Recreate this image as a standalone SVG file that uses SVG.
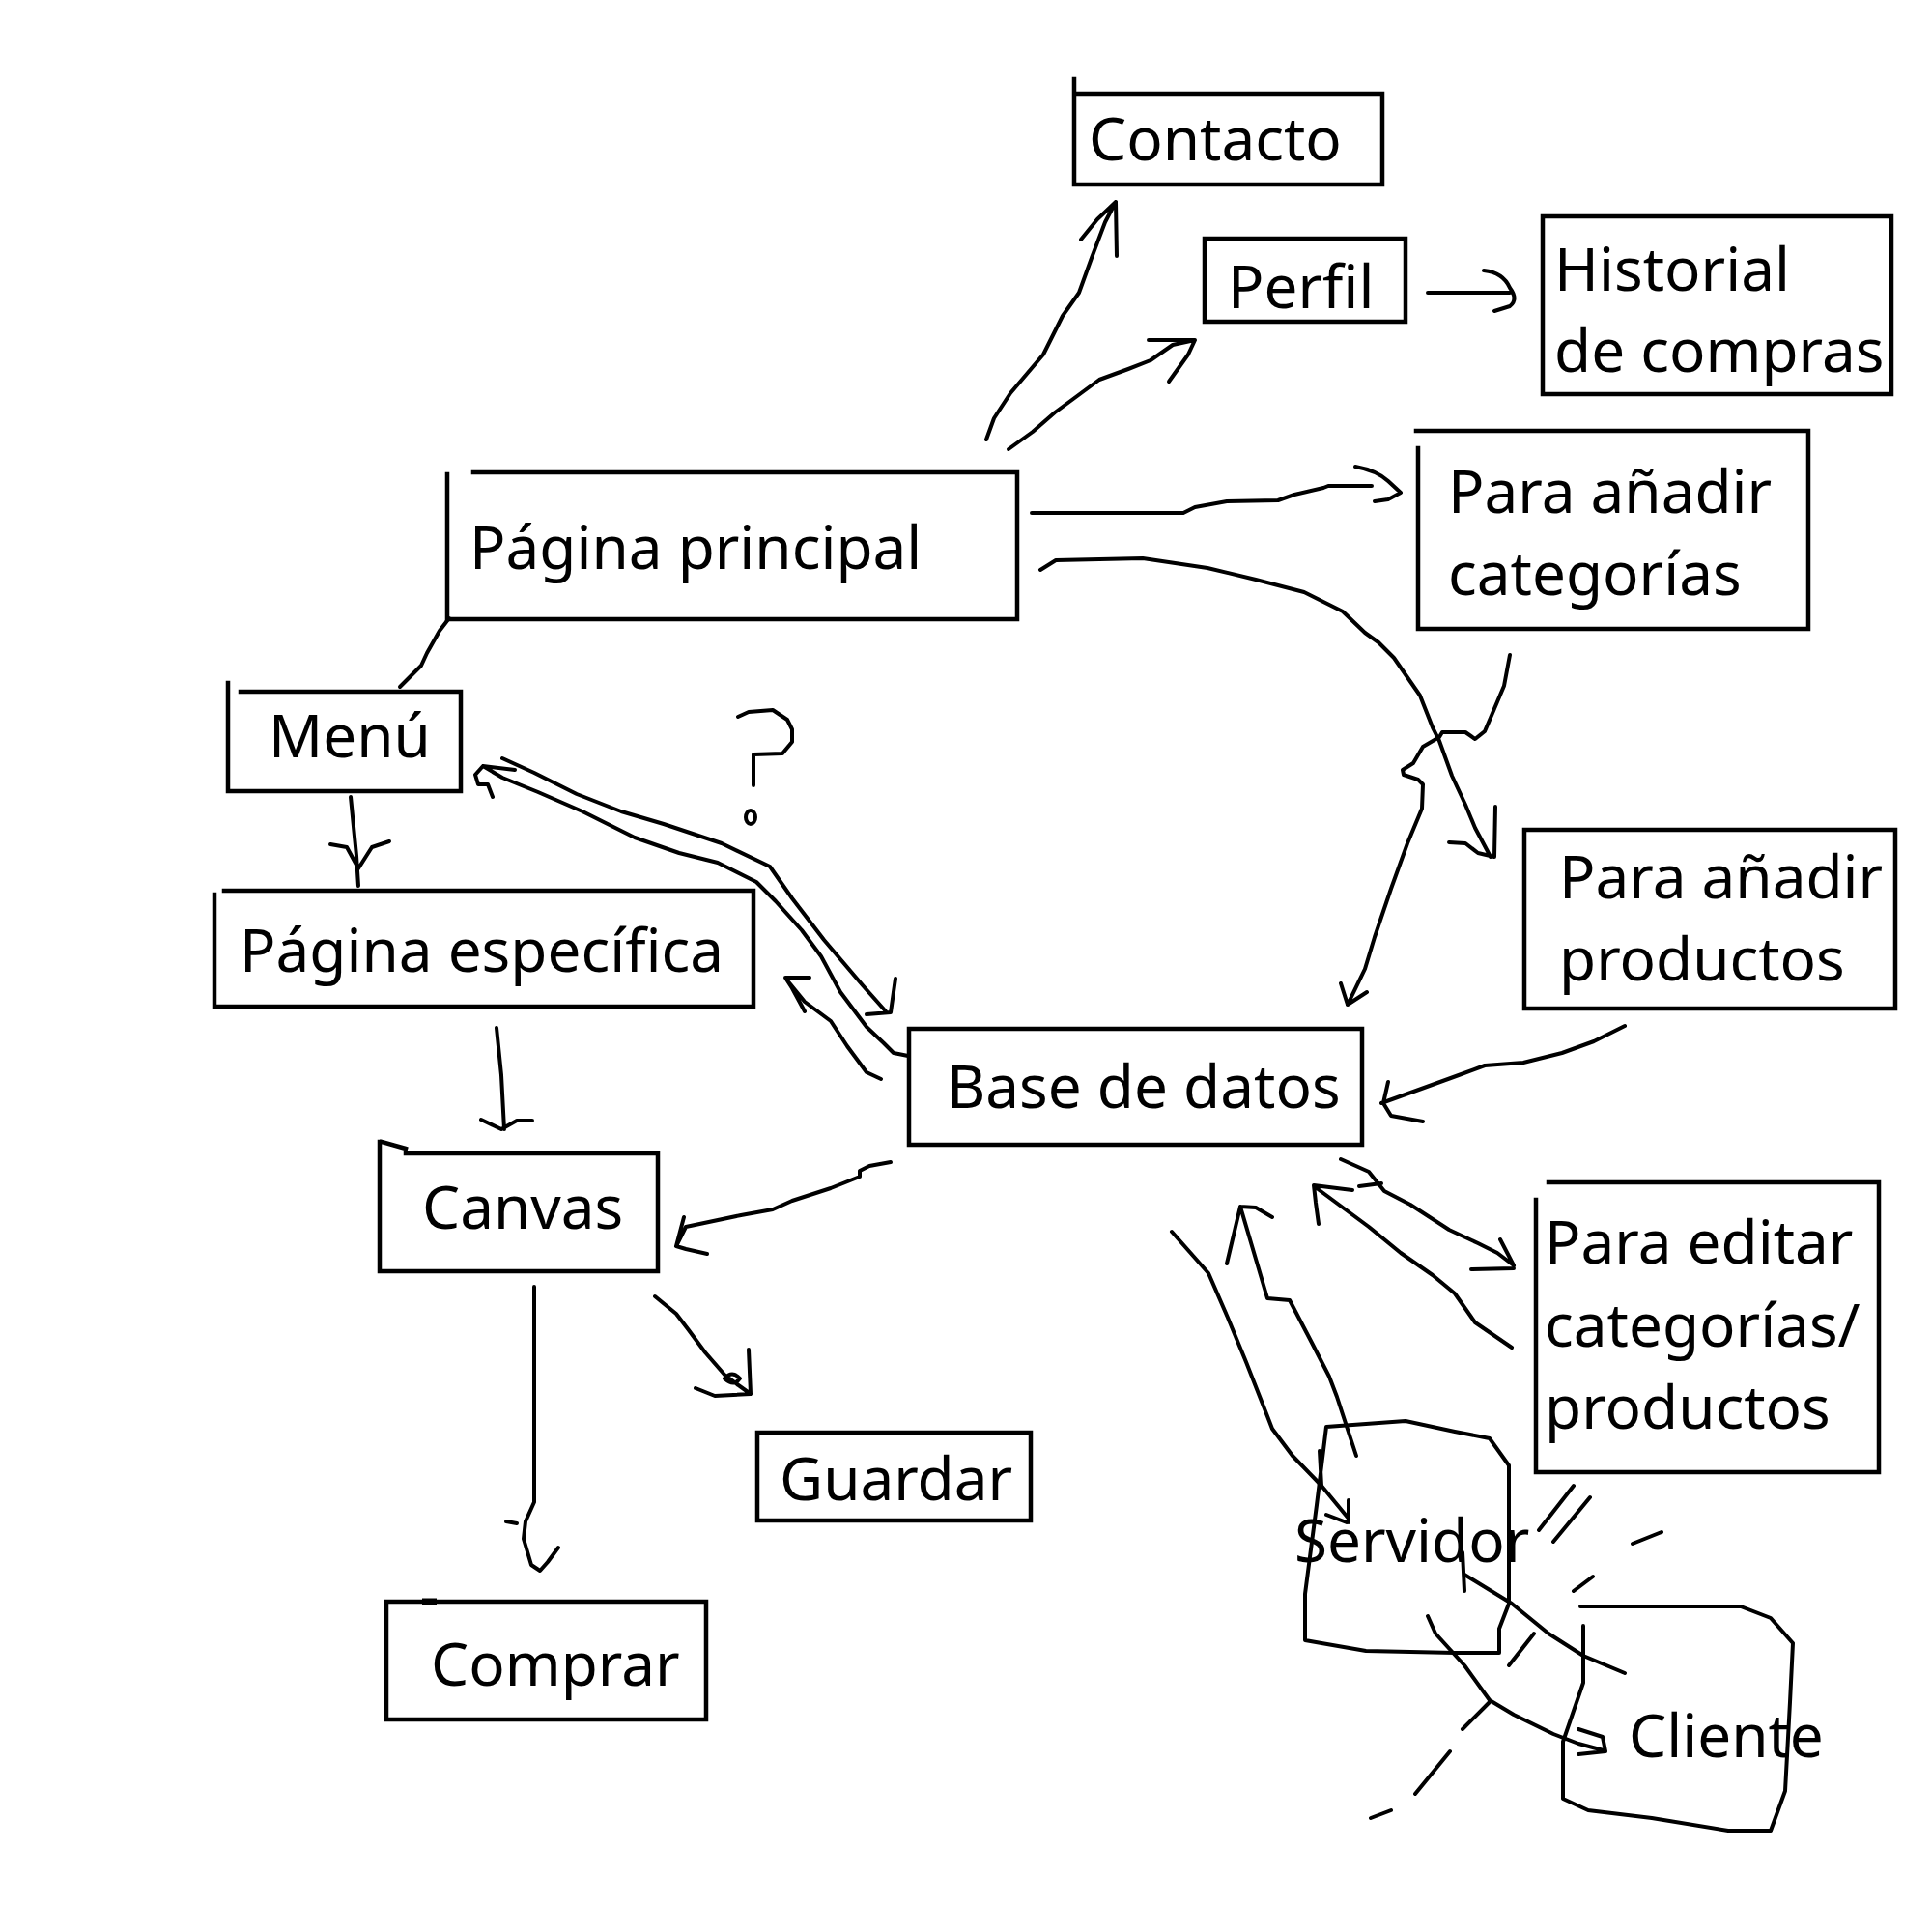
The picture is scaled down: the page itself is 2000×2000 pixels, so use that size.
<svg xmlns="http://www.w3.org/2000/svg" width="2000" height="2000" viewBox="0 0 2000 2000">
<style>
.box{fill:none;stroke:#000;stroke-width:4.5;stroke-linejoin:miter;stroke-linecap:square}
.hand{fill:none;stroke:#000;stroke-width:4;stroke-linejoin:round;stroke-linecap:round}
.lbl{font-family:"Noto Sans","Open Sans","DejaVu Sans",sans-serif;font-size:62px;fill:#000}
</style>
<rect x="0" y="0" width="2000" height="2000" fill="#fff"/>
<g id="contacto"><path class="box" d="M1112,82 L1112,191 L1431,191 L1431,97 L1112,97"/><text class="lbl" x="1127" y="166">Contacto</text></g>
<g id="perfil"><path class="box" d="M1247,247 L1455,247 L1455,333 L1247,333 Z"/><text class="lbl" x="1271" y="319">Perfil</text></g>
<g id="historial"><rect class="box" x="1597" y="224" width="361" height="184"/><text class="lbl" x="1609" y="301">Historial</text><text class="lbl" x="1609" y="385">de compras</text></g>
<g id="pagina-principal"><path class="box" d="M463,491 L463,641 L1053,641 L1053,489 L490,489"/><text class="lbl" x="486" y="589">Página principal</text></g>
<g id="anadir-categorias"><path class="box" d="M1466,446 L1872,446 L1872,651 L1468,651 L1468,464"/><text class="lbl" x="1499" y="531">Para añadir</text><text class="lbl" x="1499" y="616">categorías</text></g>
<g id="menu"><path class="box" d="M236,707 L236,819 L477,819 L477,716 L249,716"/><text class="lbl" x="278" y="784">Menú</text></g>
<g id="pagina-especifica"><path class="box" d="M222,926 L222,1042 L780,1042 L780,922 L232,922"/><text class="lbl" x="248" y="1006">Página específica</text></g>
<g id="anadir-productos"><rect class="box" x="1578" y="859" width="384" height="185"/><text class="lbl" x="1614" y="930">Para añadir</text><text class="lbl" x="1614" y="1015">productos</text></g>
<g id="base-datos"><rect class="box" x="941" y="1065" width="469" height="120"/><text class="lbl" x="980" y="1147">Base de datos</text></g>
<g id="canvas"><path class="box" d="M395,1182 L420,1189 M420,1194 L681,1194 L681,1316 L393,1316 L393,1182"/><text class="lbl" x="437" y="1272">Canvas</text></g>
<g id="editar"><path class="box" d="M1603,1224 L1945,1224 L1945,1524 L1590,1524 L1590,1242"/><text class="lbl" x="1599" y="1308">Para editar</text><text class="lbl" x="1599" y="1394">categorías/</text><text class="lbl" x="1599" y="1479">productos</text></g>
<g id="guardar"><rect class="box" x="784" y="1483" width="283" height="91"/><text class="lbl" x="807" y="1553">Guardar</text></g>
<g id="comprar"><rect class="box" x="400" y="1658" width="331" height="122"/><path d="M437,1658 L452,1658" stroke="#000" stroke-width="7"/><text class="lbl" x="446" y="1745">Comprar</text></g>
<g id="servidor"><path class="hand" d="M1373,1477 L1455,1471 L1506,1482 L1542,1489 L1562,1517 L1562,1660 L1552,1686 L1552,1711 L1506,1711 L1414,1709 L1368,1701 L1351,1698 L1351,1650 L1363,1558 Z M1366,1502 L1368,1538 M1514,1607 L1516,1647"/><text class="lbl" x="1340" y="1617">Servidor</text></g>
<g id="cliente"><path class="hand" d="M1636,1663 L1802,1663 L1833,1675 L1856,1701 L1853,1762 L1848,1854 L1833,1895 L1789,1895 L1710,1882 L1644,1874 L1618,1862 L1618,1803 L1639,1742 L1639,1683"/><text class="lbl" x="1686" y="1819">Cliente</text></g>
<g id="question"><path class="hand" d="M764,742 L775,737 L800,735 L815,745 L820,755 L820,768 L810,780 L780,781 L780,813"/><ellipse cx="777" cy="846" rx="5" ry="7" fill="none" stroke="#000" stroke-width="4"/></g>
<g id="connectors">
<path class="hand" d="M1021,455 L1029,433 L1046,407 L1080,367 L1100,327 L1117,303 L1130,267 L1144,230 L1155,209 M1119,248 L1136,227 L1155,209 L1156,265"/>
<path class="hand" d="M1044,465 L1069,447 L1092,427 L1111,413 L1138,393 L1168,382 L1191,373 L1214,357 L1237,352 M1189,352 L1237,352 L1230,367 L1210,395"/>
<path class="hand" d="M1478,303 L1563,303 M1536,280 Q1556,282 1563,298 Q1572,310 1563,317 L1547,322"/>
<path class="hand" d="M1068,531 L1225,531 L1237,525 L1270,519 L1323,518 L1340,512 L1370,505 L1375,503 L1420,503 M1403,483 Q1425,487 1437,498 L1450,510 L1437,517 L1423,519"/>
<path class="hand" d="M1077,590 L1093,580 L1183,578 L1250,588 L1300,600 L1350,613 L1390,633 L1413,655 L1427,665 L1443,681 L1470,720 L1483,753 L1490,767 L1503,803 L1517,833 L1527,857 L1543,887 M1548,835 L1547,887 L1530,883 L1517,873 L1500,872"/>
<path class="hand" d="M1563,678 L1557,710 L1543,743 L1537,757 L1527,765 L1517,758 L1493,758 L1490,763 L1473,773 L1463,790 L1452,797 L1453,802 L1468,807 L1473,812 L1472,837 L1457,873 L1440,920 L1423,970 L1413,1003 L1395,1040 M1388,1018 L1395,1040 L1415,1027"/>
<path class="hand" d="M1682,1062 L1650,1078 L1617,1090 L1577,1100 L1537,1103 L1510,1113 L1477,1125 L1430,1142 M1437,1120 L1432,1142 L1440,1155 L1473,1161"/>
<path class="hand" d="M465,640 L455,653 L442,676 L436,689 L414,711"/>
<path class="hand" d="M363,825 L369,886 L371,917 M342,874 L359,877 L371,899 L385,877 L403,871"/>
<path class="hand" d="M520,785 L553,800 L597,822 L643,840 L687,853 L747,873 L797,897 L820,930 L853,973 L893,1020 L917,1047 M927,1013 L922,1048 L897,1050"/>
<path class="hand" d="M940,1093 L925,1090 L915,1080 L897,1063 L870,1027 L850,990 L830,963 L803,933 L783,913 L743,893 L703,883 L657,867 L603,840 L557,820 L520,805 L500,793 M533,797 L500,793 L492,802 L495,812 L505,812 L510,825"/>
<path class="hand" d="M912,1117 L897,1110 L877,1083 L860,1057 L833,1037 L815,1015 M838,1012 L813,1012 L820,1023 L833,1047"/>
<path class="hand" d="M514,1064 L519,1113 L522,1169 M498,1159 L519,1169 L535,1160 L551,1160"/>
<path class="hand" d="M922,1203 L900,1207 L890,1212 L890,1218 L860,1230 L820,1243 L800,1252 L767,1258 L710,1270 L700,1290 M708,1260 L700,1290 L710,1293 L732,1298"/>
<path class="hand" d="M678,1342 L700,1360 L713,1377 L730,1400 L750,1423 L763,1433 L777,1443 M775,1397 L777,1443 L740,1445 L720,1437 M750,1427 Q758,1418 766,1427 Q760,1436 750,1427"/>
<path class="hand" d="M553,1332 L553,1555 L544,1575 L542,1593 L550,1620 L559,1626 L567,1617 L578,1602 M524,1575 L535,1577"/>
<path class="hand" d="M1388,1200 L1417,1213 L1433,1233 L1460,1247 L1500,1273 L1530,1287 L1550,1297 L1567,1310 M1553,1283 L1567,1310 M1523,1314 L1567,1313 M1407,1228 L1430,1225"/>
<path class="hand" d="M1363,1230 L1390,1250 L1417,1270 L1450,1297 L1483,1320 L1506,1339 L1527,1369 L1565,1395 M1400,1232 L1360,1227 L1362,1245 L1365,1267"/>
<path class="hand" d="M1213,1275 L1251,1318 L1271,1364 L1290,1410 L1312,1466 L1317,1479 L1338,1507 L1368,1538 L1396,1572 M1396,1553 L1396,1576 M1373,1568 L1394,1576"/>
<path class="hand" d="M1404,1507 L1384,1446 L1376,1425 L1358,1390 L1335,1346 L1312,1344 L1294,1283 L1284,1249 M1270,1308 L1284,1249 L1300,1250 L1317,1260"/>
<path class="hand" d="M1516,1630 L1565,1660 L1603,1691 L1639,1714 L1682,1732"/>
<path class="hand" d="M1478,1673 L1486,1691 L1516,1724 L1542,1760 L1567,1775 L1608,1795 L1634,1805 L1660,1812 M1634,1790 L1659,1798 L1662,1813 L1634,1816"/>
<path class="hand" d="M1629,1538 L1593,1584 M1646,1550 L1608,1596 M1720,1586 L1690,1598 M1649,1632 L1629,1647 M1588,1691 L1562,1724 M1542,1762 L1514,1790 M1501,1813 L1465,1857 M1440,1874 L1419,1882"/>
</g>
</svg>
